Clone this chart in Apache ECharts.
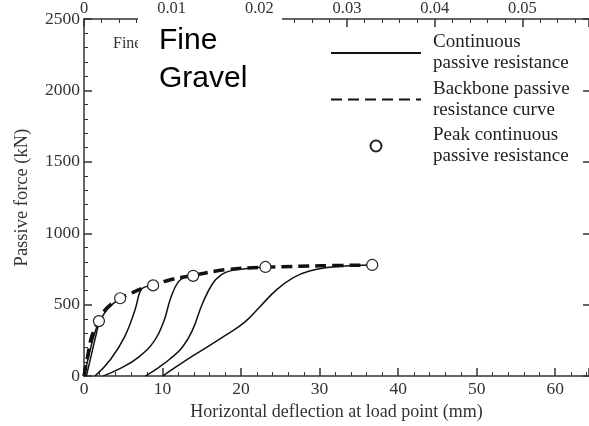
<!DOCTYPE html>
<html>
<head>
<meta charset="utf-8">
<script src="https://cdn.jsdelivr.net/npm/echarts@6/dist/echarts.min.js"></script>
<style>
  html, body { margin: 0; padding: 0; background: #fff; }
  #main { width: 589px; height: 426px; }
</style>
</head>
<body>
<div id="main"></div>
<script>
// backbone passive resistance curve (mm, kN)
var backboneX = [0, 0.5, 1.0, 1.9, 2.5, 3.5, 4.6, 6, 7.5, 8.8, 11, 13.9, 18, 23.1, 30, 36.7];
var backboneY = [0, 150, 280, 390, 450, 505, 545, 580, 615, 635, 675, 705, 745, 762, 772, 778];

// peak continuous passive resistance
var peaksX = [1.9, 4.6, 8.8, 13.9, 23.1, 36.7];
var peaksY = [385, 545, 635, 702, 764, 778];

// continuous passive resistance, one array per load cycle
var cycle1 = [[0, 0], [0.6, 140], [1.2, 270], [1.9, 385]];
var cycle1b = [[0.3, 0], [0.9, 140], [1.5, 280], [2.0, 380], [3.0, 470], [4.6, 545]];
var cycle2 = [[1.4, 0], [3.4, 118], [5.2, 278], [6.5, 465], [7.2, 600], [7.8, 625], [8.8, 635]];
var cycle3 = [[2.4, 0], [4.5, 50], [7, 135], [9, 250], [10.2, 390], [11, 540], [12, 660], [13, 695], [13.9, 702]];
var cycle4 = [[7.8, 0], [9.5, 60], [10.9, 118], [12.5, 200], [13.8, 320], [15.1, 510], [16.4, 650], [17.5, 710], [18.5, 735], [20.5, 752], [23.1, 764]];
var cycle5 = [[10.0, 0], [13.8, 139], [18.2, 292], [20.5, 380], [22.4, 486], [24.5, 604], [26.6, 688], [28.7, 736], [31.6, 764], [34, 773], [36.7, 778]];

var yTicks = [0, 500, 1000, 1500, 2000, 2500];

var serif = 'Liberation Serif';
var contName = 'Continuous\npassive resistance';
var backName = 'Backbone passive\nresistance curve';
var peakName = 'Peak continuous\npassive resistance';

function zip(xs, ys) {
  return xs.map(function (x, i) { return [x, ys[i]]; });
}

function cycleSeries(d) {
  return {
    name: contName, type: 'line', data: d, xAxisIndex: 0, yAxisIndex: 0,
    smooth: 0.45, symbol: 'none',
    itemStyle: {color: '#111'},
    lineStyle: {color: '#111', width: 1.5}, z: 3
  };
}

function axisLine(show) {
  return {show: show, onZero: false, lineStyle: {color: '#333', width: 1.5}};
}
function tick(len, w) {
  return {show: true, inside: true, length: len, lineStyle: {color: '#333', width: w}};
}
function minor() {
  return {show: true, splitNumber: 5, length: 4, lineStyle: {color: '#333', width: 1}};
}

var option = {
  backgroundColor: '#fff',
  animation: false,
  grid: {left: 84, top: 17, right: -1, bottom: 49},
  legend: {
    orient: 'vertical', left: 325, top: 27,
    itemWidth: 90, itemHeight: 11, itemGap: 4.5,
    data: [
      {name: contName, itemStyle: {opacity: 0}},
      {name: backName, itemStyle: {opacity: 0}},
      {name: peakName}
    ],
    textStyle: {fontFamily: serif, fontSize: 19, color: '#222', lineHeight: 21, padding: [0, 0, 0, 7]}
  },
  xAxis: [
    {
      type: 'value', position: 'bottom', min: 0, max: 64.3, interval: 10,
      name: 'Horizontal deflection at load point (mm)', nameLocation: 'middle', nameGap: 24,
      nameTextStyle: {fontFamily: serif, fontSize: 18, color: '#333'},
      axisLine: axisLine(true), axisTick: tick(8, 1.5), minorTick: minor(),
      splitLine: {show: false},
      axisLabel: {color: '#333', fontFamily: serif, fontSize: 17.5, margin: 4, showMaxLabel: false}
    },
    {
      type: 'value', position: 'top', min: 0, max: 0.0576, interval: 0.01,
      axisLine: axisLine(true), axisTick: tick(8, 1.5), minorTick: minor(),
      splitLine: {show: false},
      axisLabel: {
        color: '#333', fontFamily: serif, fontSize: 16.5, margin: 2, showMaxLabel: false,
        formatter: function (v) { return v === 0 ? '0' : v.toFixed(2); }
      }
    }
  ],
  yAxis: [
    {
      type: 'value', position: 'left', min: yTicks[0], max: yTicks[yTicks.length - 1], interval: 500,
      name: 'Passive force (kN)', nameLocation: 'middle', nameGap: 52,
      nameTextStyle: {fontFamily: serif, fontSize: 18.5, color: '#333'},
      axisLine: axisLine(true), axisTick: tick(8, 1.5), minorTick: minor(),
      splitLine: {show: false},
      axisLabel: {
        color: '#333', fontFamily: serif, fontSize: 17.5, margin: 4,
        formatter: function (v) { return String(v); }
      }
    },
    {
      type: 'value', position: 'right', min: 0, max: 2500, interval: 500,
      axisLine: axisLine(false), axisTick: tick(6, 1.5),
      splitLine: {show: false},
      axisLabel: {show: false}
    }
  ],
  series: [
    cycleSeries(cycle1),
    cycleSeries(cycle1b),
    cycleSeries(cycle2),
    cycleSeries(cycle3),
    cycleSeries(cycle4),
    cycleSeries(cycle5),
    {
      name: backName, type: 'line', data: zip(backboneX, backboneY),
      smooth: 0.4, symbol: 'none',
      itemStyle: {color: '#111'},
      lineStyle: {color: '#111', width: 3.5, type: [11, 6]}, z: 4
    },
    {
      name: peakName, type: 'scatter', data: zip(peaksX, peaksY),
      symbol: 'circle', symbolSize: 11,
      itemStyle: {color: '#fff', borderColor: '#222', borderWidth: 1.2, opacity: 1}, z: 5
    }
  ],
  graphic: [
    {type: 'text', left: 113, top: 36, z: 50,
      style: {text: 'Fine', font: '16px "Liberation Serif"', fill: '#333'}},
    {type: 'rect', left: 138, top: 14, z: 60,
      shape: {width: 144, height: 84}, style: {fill: '#fff'}},
    {type: 'text', left: 159, top: 22, z: 70,
      style: {text: 'Fine\nGravel', font: '30px "Liberation Sans"', lineHeight: 38, fill: '#000'}}
  ]
};

var chart = echarts.init(document.getElementById('main'), null, {renderer: 'canvas'});
chart.setOption(option);
</script>
</body>
</html>
